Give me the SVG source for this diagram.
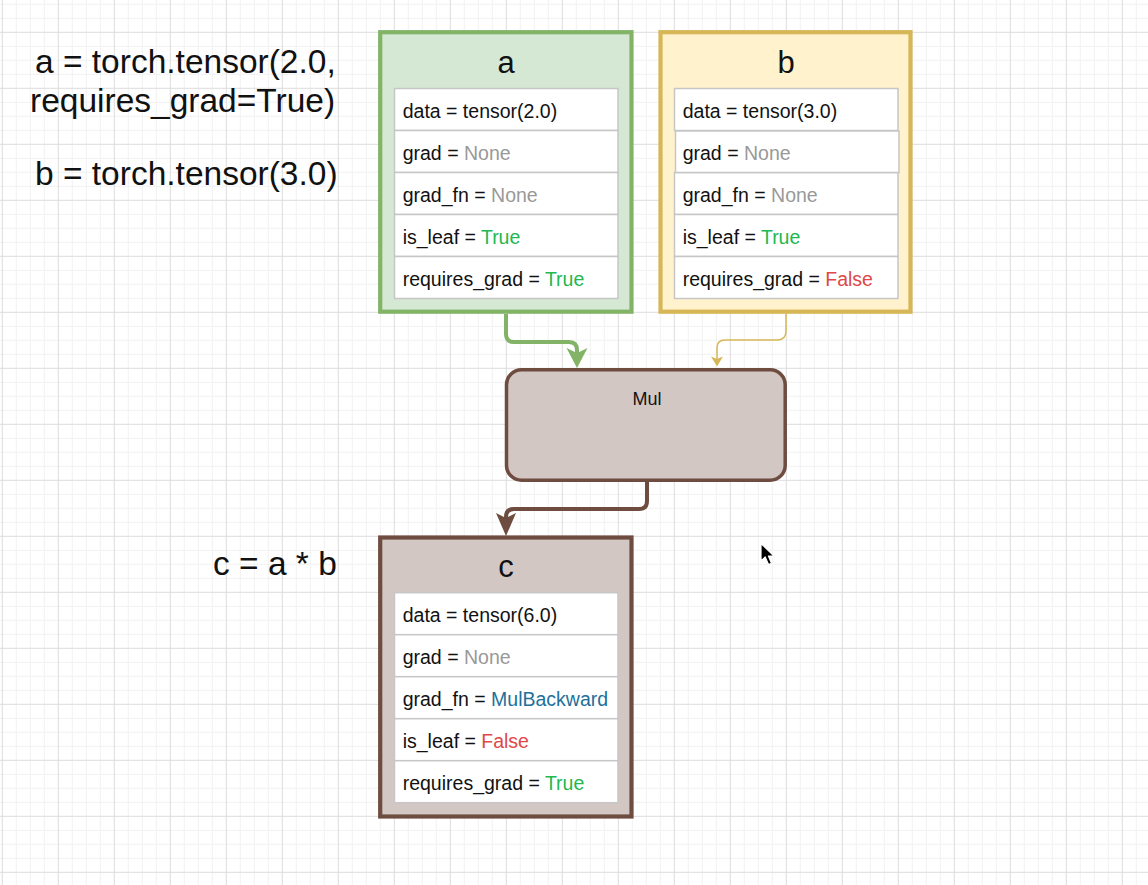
<svg xmlns="http://www.w3.org/2000/svg" width="1148" height="885" viewBox="0 0 1148 885">
<style>
text{font-family:"Liberation Sans",Arial,Helvetica,sans-serif;fill:#111}
.code{font-size:33.5px}
.title{font-size:31px;text-anchor:middle}
.row{font-size:19.5px}
.cell{fill:#fff;stroke:#c6c6c6;stroke-width:1.5}
.none{fill:#999}
.t{fill:#21b84f}
.f{fill:#e04848}
.fn{fill:#22709a}
.conn{fill:none;stroke-linejoin:round}
</style>
<defs>
<pattern id="grid" x="1.8" y="31.8" width="56" height="56" patternUnits="userSpaceOnUse">
<path d="M14.5 0V56M28.5 0V56M42.5 0V56M0 14.5H56M0 28.5H56M0 42.5H56" stroke="#f1f1f1" stroke-width="1" fill="none"/>
<path d="M0.5 0V56M0 0.5H56" stroke="#dcdcdc" stroke-width="1" fill="none"/>
</pattern>
<marker id="ag" markerUnits="userSpaceOnUse" markerWidth="30" markerHeight="30" refX="5" refY="10.5" orient="auto" overflow="visible"><path d="M0 0L20 10.5L0 21L5 10.5Z" fill="#82b366"/></marker>
<marker id="ay" markerUnits="userSpaceOnUse" markerWidth="20" markerHeight="20" refX="2.5" refY="6" orient="auto" overflow="visible"><path d="M0 0L10 6L0 12L2.5 6Z" fill="#d6b656"/></marker>
<marker id="ab" markerUnits="userSpaceOnUse" markerWidth="30" markerHeight="30" refX="5" refY="10" orient="auto" overflow="visible"><path d="M0 0L23 10L0 20L5 10Z" fill="#6e4c40"/></marker>
</defs>
<rect width="1148" height="885" fill="#fff"/>
<rect width="1148" height="885" fill="url(#grid)"/>

<g id="labels">
<text class="code" x="35" y="73">a = torch.tensor(2.0,</text>
<text class="code" x="30" y="111.5">requires_grad=True)</text>
<text class="code" x="35" y="185">b = torch.tensor(3.0)</text>
<text class="code" x="213" y="575">c = a * b</text>
</g>

<g id="connectors">
<path class="conn" d="M506 314V334Q506 342 514 342H569Q577 342 577 350V353" stroke="#82b366" stroke-width="4" marker-end="url(#ag)"/>
<path class="conn" d="M786 314V331Q786 340 777 340H725Q717 340 717 348V359" stroke="#d6b656" stroke-width="1.5" marker-end="url(#ay)"/>
<path class="conn" d="M647 482V501Q647 509 639 509H514Q506 509 506 517V518" stroke="#6e4c40" stroke-width="4" marker-end="url(#ab)"/>
</g>

<g id="node-a">
<rect x="380.2" y="32.2" width="251.3" height="279.5" fill="#d5e8d4" stroke="#82b366" stroke-width="4.2"/>
<text class="title" x="506" y="73">a</text>
<rect class="cell" x="394.5" y="88.5" width="223.5" height="42"/>
<rect class="cell" x="394.5" y="130.5" width="223.5" height="42"/>
<rect class="cell" x="394.5" y="172.5" width="223.5" height="42"/>
<rect class="cell" x="394.5" y="214.5" width="223.5" height="42"/>
<rect class="cell" x="394.5" y="256.5" width="223.5" height="42"/>
<text class="row" x="402.7" y="117.7">data = tensor(2.0)</text>
<text class="row" x="402.7" y="159.7">grad = <tspan class="none">None</tspan></text>
<text class="row" x="402.7" y="201.7">grad_fn = <tspan class="none">None</tspan></text>
<text class="row" x="402.7" y="243.7">is_leaf = <tspan class="t">True</tspan></text>
<text class="row" x="402.7" y="285.7">requires_grad = <tspan class="t">True</tspan></text>
</g>

<g id="node-b">
<rect x="660.5" y="32.2" width="250" height="279.5" fill="#fff2cc" stroke="#d6b656" stroke-width="4.2"/>
<text class="title" x="786" y="73">b</text>
<rect class="cell" x="674.5" y="88.5" width="223.5" height="42"/>
<rect class="cell" x="674.5" y="172.5" width="223.5" height="42"/>
<rect class="cell" x="674.5" y="214.5" width="223.5" height="42"/>
<rect class="cell" x="674.5" y="256.5" width="223.5" height="42"/>
<rect class="cell" x="675.5" y="131" width="223.5" height="41.5"/>
<text class="row" x="682.7" y="117.7">data = tensor(3.0)</text>
<text class="row" x="682.7" y="159.7">grad = <tspan class="none">None</tspan></text>
<text class="row" x="682.7" y="201.7">grad_fn = <tspan class="none">None</tspan></text>
<text class="row" x="682.7" y="243.7">is_leaf = <tspan class="t">True</tspan></text>
<text class="row" x="682.7" y="285.7">requires_grad = <tspan class="f">False</tspan></text>
</g>

<g id="node-mul">
<rect x="506.5" y="369.8" width="278.7" height="110.4" rx="15" ry="15" fill="#d3c7c4" stroke="#6e4c40" stroke-width="3.5"/>
<text x="647" y="405" style="font-size:18px;text-anchor:middle">Mul</text>
</g>

<g id="node-c">
<rect x="380.2" y="537.5" width="251.3" height="279" fill="#d3c7c4" stroke="#6e4c40" stroke-width="4.2"/>
<text class="title" x="506" y="577">c</text>
<rect class="cell" x="394.5" y="592.7" width="223.5" height="42"/>
<rect class="cell" x="394.5" y="634.7" width="223.5" height="42"/>
<rect class="cell" x="394.5" y="676.7" width="223.5" height="42"/>
<rect class="cell" x="394.5" y="718.7" width="223.5" height="42"/>
<rect class="cell" x="394.5" y="760.7" width="223.5" height="42"/>
<text class="row" x="402.7" y="621.9">data = tensor(6.0)</text>
<text class="row" x="402.7" y="663.9">grad = <tspan class="none">None</tspan></text>
<text class="row" x="402.7" y="705.9">grad_fn = <tspan class="fn">MulBackward</tspan></text>
<text class="row" x="402.7" y="747.9">is_leaf = <tspan class="f">False</tspan></text>
<text class="row" x="402.7" y="789.9">requires_grad = <tspan class="t">True</tspan></text>
</g>

<path id="cursor" d="M761 543.5L761 561L765.2 557L768.5 564.5L771.5 563.2L768.4 556L774 556Z" fill="#000" stroke="#fff" stroke-width="1.2" stroke-linejoin="round"/>
</svg>
